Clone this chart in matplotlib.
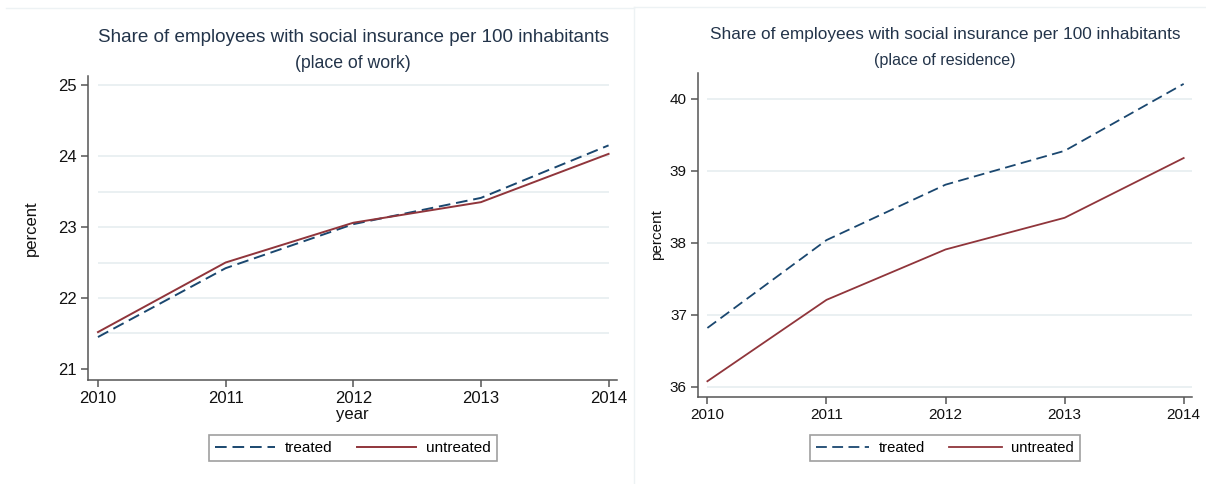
import matplotlib.pyplot as plt
from matplotlib.lines import Line2D

plt.rcParams['font.family'] = ['Liberation Sans', 'DejaVu Sans']

# data
years = [2010, 2011, 2012, 2013, 2014]
work_treated = [21.45, 22.42, 23.04, 23.41, 24.15]
work_untreated = [21.52, 22.50, 23.06, 23.35, 24.03]
res_treated = [36.82, 38.04, 38.81, 39.28, 40.21]
res_untreated = [36.08, 37.21, 37.91, 38.35, 39.18]

title = "Share of employees with social insurance per 100 inhabitants"
subtitles = ["(place of work)", "(place of residence)"]

blue = '#1a476f'
red = '#90353b'
grid_col = '#e6eef0'
spine_col = '#555555'
text_col = '#23344a'
W, H = 1206, 484

fig = plt.figure(figsize=(12.06, 4.84), dpi=100)

# axes boxes in pixels: left, right, top, bottom
ax1 = fig.add_axes([88/W, 1-380/H, (617-88)/W, (380-76)/H])
ax2 = fig.add_axes([698/W, 1-397/H, (1192-698)/W, (397-73)/H])

def style(ax, yt, fs, ylab_x):
    ax.set_xticks(years)
    ax.set_yticks(yt)
    for s in ['top', 'right']:
        ax.spines[s].set_visible(False)
    for s in ['left', 'bottom']:
        ax.spines[s].set_color(spine_col)
        ax.spines[s].set_linewidth(1.1)
    ax.tick_params(direction='out', length=5, color=spine_col, labelsize=fs,
                   labelcolor='#111111', width=1.1, pad=3)
    ax.set_ylabel('percent', fontsize=fs, color='#111111')
    ax.yaxis.set_label_coords(ylab_x, 0.5)

# left panel: place of work
ax1.plot(years, work_treated, color=blue, lw=1.4, ls=(0, (6, 3)), label='treated')
ax1.plot(years, work_untreated, color=red, lw=1.4, label='untreated')
ax1.set_xlim(2009.922, 2014.066)
ax1.set_ylim(20.845, 25.127)
ax1.hlines([21.5, 22, 22.5, 23, 23.5, 24, 25], years[0], years[-1],
           color=grid_col, lw=1.2, zorder=0)
style(ax1, [21, 22, 23, 24, 25], 12, -0.093)
ax1.set_xlabel('year', fontsize=12, color='#111111')
ax1.xaxis.set_label_coords(0.5, -0.088)

# right panel: place of residence
ax2.plot(years, res_treated, color=blue, lw=1.3, ls=(0, (6, 3)), label='treated')
ax2.plot(years, res_untreated, color=red, lw=1.3, label='untreated')
ax2.set_xlim(2009.921, 2014.07)
ax2.set_ylim(35.861, 40.361)
ax2.hlines([36, 37, 38, 39, 40], years[0], 2014.07,
           color=grid_col, lw=1.2, zorder=0)
style(ax2, [36, 37, 38, 39, 40], 11, -0.069)

# titles (two lines each)
fig.text(353/W, 1-37/H, title, ha='center', va='center', fontsize=13.6, color=text_col)
fig.text(353/W, 1-63/H, subtitles[0], ha='center', va='center', fontsize=12.7, color=text_col)
fig.text(945/W, 1-34/H, title, ha='center', va='center', fontsize=12.4, color=text_col)
fig.text(945/W, 1-61/H, subtitles[1], ha='center', va='center', fontsize=11.6, color=text_col)

for ax, cx, fs, hl in [(ax1, 353/W, 11, 3.9), (ax2, 945/W, 10.6, 3.6)]:
    leg = ax.legend(loc='center', bbox_to_anchor=(cx, 1-448/H),
                    bbox_transform=fig.transFigure, ncol=2, fontsize=fs,
                    frameon=True, fancybox=False, handlelength=hl,
                    handletextpad=0.65, columnspacing=1.6, borderpad=0.4)
    leg.get_frame().set_edgecolor('#888888')
    leg.get_frame().set_linewidth(1.2)

# faint panel borders
fig.add_artist(Line2D([6/W, 634/W], [1-8/H, 1-8/H], color='#edf2f4', lw=1))
fig.add_artist(Line2D([634/W, 1], [1-7/H, 1-7/H], color='#edf2f4', lw=1))
fig.add_artist(Line2D([634/W, 634/W], [0, 1-7/H], color='#edf2f4', lw=1))

fig.savefig('out.png', dpi=100)
